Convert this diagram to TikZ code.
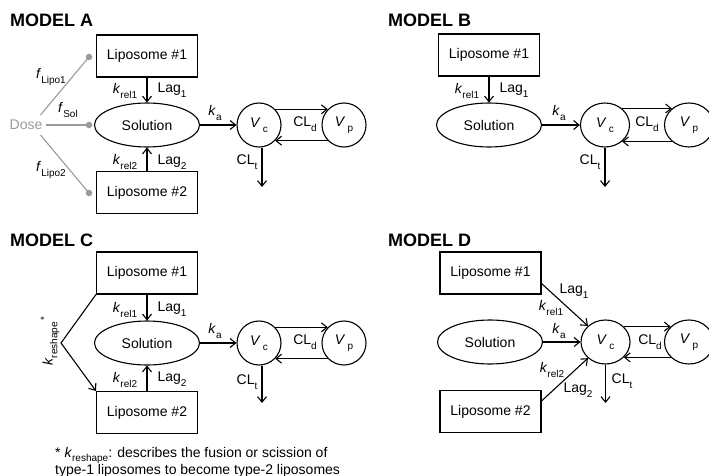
\documentclass[tikz,border=0pt]{standalone}
\usepackage{fontspec}
\setmainfont{Liberation Sans}
\usetikzlibrary{arrows.meta,shapes.geometric,calc}
\newcommand{\mysub}[1]{\raisebox{-0.34em}{\fontsize{10}{10}\selectfont #1}}
\newcommand{\myk}[1]{\textit{k}\mysub{#1}}
\newcommand{\myV}[1]{\textit{V}\,\mysub{#1}}
\definecolor{dosegray}{HTML}{9A9A9A}
\begin{document}
\begin{tikzpicture}[x=1pt,y=-1pt,
  txt/.style={font=\fontsize{14}{16}\selectfont},
  lbl/.style={txt, inner sep=0pt},
  lipo/.style={txt, draw, rectangle, minimum width=101pt, minimum height=42pt, line width=1.1pt},
  sol/.style={txt, draw, ellipse, minimum width=105pt, minimum height=44pt, inner sep=0pt, line width=1.1pt},
  comp/.style={txt, draw, ellipse, minimum width=44pt, minimum height=44pt, inner sep=0pt, line width=1.1pt},
  compw/.style={comp, minimum width=49pt},
  ttl/.style={font=\fontsize{18}{21}\selectfont\bfseries, anchor=base west, inner sep=0pt},
  arr/.style={-{Straight Barb[length=5.5pt,width=9pt]}, line width=1.1pt},
  gline/.style={dosegray, line width=1.1pt},
  gdot/.style={circle, fill=dosegray, inner sep=0pt, minimum size=6.5pt}]
\useasboundingbox (0,0) rectangle (709,476);

% ---------------- MODEL A ----------------
\node[ttl] (tA) at (10,27) {MODEL A};
\node[lipo] (L1A) at (147,56) {Liposome \#1};
\node[sol] (SA) at (147,125) {Solution};
\node[lipo] (L2A) at (147,192.5) {Liposome \#2};
\node[comp] (VcA) at (259,125) {\myV{c}};
\node[comp] (VpA) at (344,125) {\myV{p}};
\draw[arr] (L1A) -- (SA);
\draw[arr] (L2A) -- (SA);
\draw[arr] (SA) -- (VcA);
\draw[arr] (VcA.44) -- (VpA.136);
\draw[arr] (VpA.-136) -- (VcA.-44);
\coordinate (eA) at (262,187);
\draw[arr] (VcA.south -| eA) -- (eA);
\node[lbl] at (125,91) {\myk{rel1}};
\node[lbl] at (172,90) {Lag\mysub{1}};
\node[lbl] at (125,162) {\myk{rel2}};
\node[lbl] at (172,162) {Lag\mysub{2}};
\node[lbl] at (215,113) {\myk{a}};
\node[lbl] at (305,124) {CL\mysub{d}};
\node[lbl] at (247,162) {CL\mysub{t}};
\node[lbl, dosegray] (dose) at (26,125) {Dose};
\node[gdot] (d1) at (89,57) {};
\node[gdot] (d2) at (89,125) {};
\node[gdot] (d3) at (89,193) {};
\draw[gline] ([shift={(-2,-5)}]dose.north east) -- (d1.center);
\draw[gline] ([xshift=3pt]dose.east) -- (d2.center);
\draw[gline] ([shift={(-2,5)}]dose.south east) -- (d3.center);
\node[lbl] at (51,77) {\textit{f}\mysub{Lipo1}};
\node[lbl] at (68,110) {\textit{f}\mysub{Sol}};
\node[lbl] at (51,170) {\textit{f}\mysub{Lipo2}};

% ---------------- MODEL B ----------------
\node[ttl] (tB) at (388,27) {MODEL B};
\node[lipo] (L1B) at (489,55) {Liposome \#1};
\node[sol] (SB) at (489,125) {Solution};
\node[compw] (VcB) at (605,125) {\myV{c}};
\node[compw] (VpB) at (689,125) {\myV{p}};
\draw[arr] (L1B) -- (SB);
\draw[arr] (SB) -- (VcB);
\draw[arr] (VcB.44) -- (VpB.136);
\draw[arr] (VpB.-136) -- (VcB.-44);
\coordinate (eB) at (605,187);
\draw[arr] (VcB.south) -- (eB);
\node[lbl] at (467,91) {\myk{rel1}};
\node[lbl] at (514,90) {Lag\mysub{1}};
\node[lbl] at (559,113) {\myk{a}};
\node[lbl] at (647,124) {CL\mysub{d}};
\node[lbl] at (590,162) {CL\mysub{t}};

% ---------------- MODEL C ----------------
\node[ttl] (tC) at (10,246) {MODEL C};
\node[lipo] (L1C) at (147,273) {Liposome \#1};
\node[sol] (SC) at (147,343) {Solution};
\node[lipo] (L2C) at (147,412.5) {Liposome \#2};
\node[comp] (VcC) at (259,343) {\myV{c}};
\node[comp] (VpC) at (344,343) {\myV{p}};
\draw[arr] (L1C) -- (SC);
\draw[arr] (L2C) -- (SC);
\draw[arr] (SC) -- (VcC);
\draw[arr] (VcC.44) -- (VpC.136);
\draw[arr] (VpC.-136) -- (VcC.-44);
\coordinate (eC) at (262,403);
\draw[arr] (VcC.south -| eC) -- (eC);
\node[lbl] at (125,310) {\myk{rel1}};
\node[lbl] at (172,309) {Lag\mysub{1}};
\node[lbl] at (125,380) {\myk{rel2}};
\node[lbl] at (172,379) {Lag\mysub{2}};
\node[lbl] at (215,331) {\myk{a}};
\node[lbl] at (305,342) {CL\mysub{d}};
\node[lbl] at (247,382) {CL\mysub{t}};
\coordinate (vC) at (61,343);
\draw[arr] (L1C.south west) -- (vC) -- (L2C.north west);
\node[lbl, rotate=90] (kres) at (50,341) {\myk{reshape}\textsuperscript{\,*}};
\node[lbl, anchor=base west] (fn1) at (55,457) {* \myk{reshape}: describes the fusion or scission of};
\node[lbl, anchor=base west] (fn2) at (55,474) {type-1 liposomes to become type-2 liposomes};

% ---------------- MODEL D ----------------
\node[ttl] (tD) at (388,246) {MODEL D};
\node[lipo] (L1D) at (490.5,273) {Liposome \#1};
\node[sol] (SD) at (490,342) {Solution};
\node[lipo] (L2D) at (490.5,411.5) {Liposome \#2};
\node[compw] (VcD) at (605.5,342) {\myV{c}};
\node[compw] (VpD) at (689,342) {\myV{p}};
\draw[arr] ([yshift=11pt]L1D.south east) -- (VcD);
\draw[arr] ([yshift=-11pt]L2D.north east) -- (VcD);
\draw[arr] (SD) -- (VcD);
\draw[arr] (VcD.40) -- (VpD.140);
\draw[arr] (VpD.-140) -- (VcD.-40);
\coordinate (eD) at (605.5,403);
\draw[arr] (VcD.south) -- (eD);
\node[lbl] at (574,291) {Lag\mysub{1}};
\node[lbl] at (551,308) {\myk{rel1}};
\node[lbl] at (559,331) {\myk{a}};
\node[lbl] at (552,370) {\myk{rel2}};
\node[lbl] at (578,390) {Lag\mysub{2}};
\node[lbl] at (650,342) {CL\mysub{d}};
\node[lbl] at (622,381) {CL\mysub{t}};
\end{tikzpicture}
\end{document}
